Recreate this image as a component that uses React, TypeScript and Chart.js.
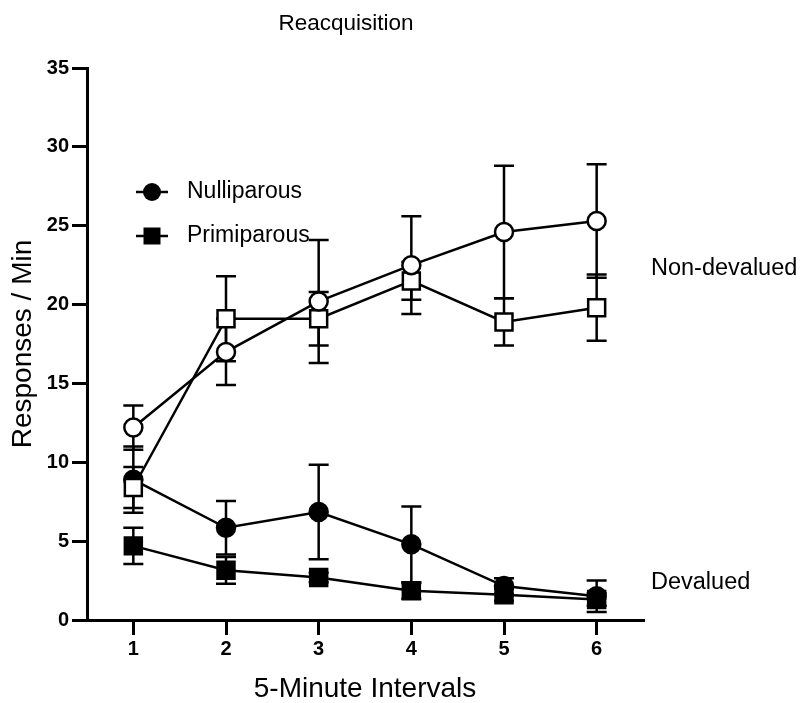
import React, { useEffect, useRef } from 'react';
import { Chart, registerables } from 'chart.js';

Chart.register(...registerables);

const FONT = '"Liberation Sans", Arial, Helvetica, sans-serif';

const TITLE = 'Reacquisition';
const X_TITLE = '5-Minute Intervals';
const Y_TITLE = 'Responses / Min';
const X_LABELS = ['1', '2', '3', '4', '5', '6'];
const Y_MIN = 0;
const Y_MAX = 35;
const Y_STEP = 5;

const LEGEND_LABELS = ['Nulliparous', 'Primiparous'];
const GROUP_LABELS = ['Non-devalued', 'Devalued'];
const GROUP_LABEL_VALUES = [22.3, 2.4];

// Non-devalued (open markers)
const NULLI_NONDEV = [12.2, 17.0, 20.2, 22.5, 24.6, 25.3];
const NULLI_NONDEV_ERR = [1.4, 2.1, 3.9, 3.1, 4.2, 3.6];
const PRIMI_NONDEV = [8.4, 19.1, 19.1, 21.5, 18.9, 19.8];
const PRIMI_NONDEV_ERR = [1.3, 2.7, 1.7, 1.2, 1.5, 2.1];

// Devalued (filled markers)
const NULLI_DEV = [8.9, 5.85, 6.85, 4.8, 2.15, 1.5];
const NULLI_DEV_ERR = [2.1, 1.7, 3.0, 2.4, 0.5, 1.0];
const PRIMI_DEV = [4.7, 3.15, 2.7, 1.85, 1.6, 1.3];
const PRIMI_DEV_ERR = [1.15, 0.85, 0.3, 0.5, 0.4, 0.4];

const errorBarPlugin = {
  id: 'errorBars',
  beforeDatasetsDraw(chart: any) {
    const { ctx, scales } = chart;
    const xs = scales.x;
    const ys = scales.y;
    ctx.save();
    ctx.strokeStyle = '#000';
    ctx.lineWidth = 2.5;
    chart.data.datasets.forEach((ds: any) => {
      const errs: number[] = ds.errors || [];
      ds.data.forEach((v: number, i: number) => {
        const e = errs[i];
        if (e == null) return;
        const x = xs.getPixelForValue(i);
        const yt = ys.getPixelForValue(v + e);
        const yb = ys.getPixelForValue(v - e);
        const cap = 10;
        ctx.beginPath();
        ctx.moveTo(x, yt);
        ctx.lineTo(x, yb);
        ctx.moveTo(x - cap, yt);
        ctx.lineTo(x + cap, yt);
        ctx.moveTo(x - cap, yb);
        ctx.lineTo(x + cap, yb);
        ctx.stroke();
      });
    });
    ctx.restore();
  },
};

const annotationsPlugin = {
  id: 'annotations',
  afterDraw(chart: any) {
    const { ctx, chartArea, scales } = chart;
    ctx.save();
    ctx.fillStyle = '#000';
    ctx.strokeStyle = '#000';
    // Title
    ctx.font = `22.5px ${FONT}`;
    ctx.textAlign = 'center';
    ctx.textBaseline = 'middle';
    ctx.fillText(TITLE, chartArea.left + 259, 24);

    // Legend
    const styles = ['circle', 'rect'];
    LEGEND_LABELS.forEach((label, i) => {
      const y = chartArea.top + 124 + i * 44;
      const cx = chartArea.left + 65;
      ctx.lineWidth = 2.5;
      ctx.beginPath();
      ctx.moveTo(cx - 16, y);
      ctx.lineTo(cx + 16, y);
      ctx.stroke();
      ctx.beginPath();
      if (styles[i] === 'circle') {
        ctx.arc(cx, y, 9, 0, Math.PI * 2);
      } else {
        ctx.rect(cx - 8.5, y - 8.5, 17, 17);
      }
      ctx.fill();
      ctx.font = `23px ${FONT}`;
      ctx.textAlign = 'left';
      ctx.textBaseline = 'middle';
      ctx.fillText(label, cx + 35, y);
    });

    // Group labels on the right
    ctx.font = `23.5px ${FONT}`;
    ctx.textAlign = 'left';
    ctx.textBaseline = 'middle';
    GROUP_LABELS.forEach((label, i) => {
      ctx.fillText(label, chartArea.right + 8, scales.y.getPixelForValue(GROUP_LABEL_VALUES[i]));
    });
    ctx.restore();
  },
};

function makeDataset(label: string, data: number[], errors: number[], style: string, filled: boolean) {
  return {
    label,
    data,
    errors,
    borderColor: '#000',
    borderWidth: 2.5,
    backgroundColor: filled ? '#000' : '#fff',
    pointStyle: style,
    pointRadius: style === 'rect' ? 12 : 9,
    pointBackgroundColor: filled ? '#000' : '#fff',
    pointBorderColor: '#000',
    pointBorderWidth: 2.5,
    tension: 0,
    fill: false,
    clip: false,
  } as any;
}

export default function App() {
  const canvasRef = useRef<HTMLCanvasElement | null>(null);

  useEffect(() => {
    if (!canvasRef.current) return;
    const axisGrid = {
      display: true,
      drawOnChartArea: false,
      drawTicks: true,
      tickLength: 15,
      color: '#000',
      lineWidth: 3,
    };
    const chart = new Chart(canvasRef.current, {
      type: 'line',
      data: {
        labels: X_LABELS,
        datasets: [
          makeDataset('Nulliparous Non-devalued', NULLI_NONDEV, NULLI_NONDEV_ERR, 'circle', false),
          makeDataset('Primiparous Non-devalued', PRIMI_NONDEV, PRIMI_NONDEV_ERR, 'rect', false),
          makeDataset('Nulliparous Devalued', NULLI_DEV, NULLI_DEV_ERR, 'circle', true),
          makeDataset('Primiparous Devalued', PRIMI_DEV, PRIMI_DEV_ERR, 'rect', true),
        ],
      },
      options: {
        animation: false,
        responsive: true,
        maintainAspectRatio: false,
        layout: { padding: { top: 68, right: 157, left: 0, bottom: 0 } },
        plugins: {
          legend: { display: false },
          tooltip: { enabled: false },
          title: { display: false },
        },
        scales: {
          x: {
            type: 'category',
            offset: true,
            grid: { ...axisGrid, offset: false },
            border: { display: true, color: '#000', width: 3 },
            ticks: {
              color: '#000',
              padding: 2,
              font: { family: FONT, size: 20, weight: 'bold' },
            },
            title: {
              display: true,
              text: X_TITLE,
              color: '#000',
              font: { family: FONT, size: 28, lineHeight: 1.0 },
              padding: { top: 0, bottom: 0 },
            },
            afterFit: (s: any) => {
              s.height = 83;
            },
          },
          y: {
            type: 'linear',
            min: Y_MIN,
            max: Y_MAX,
            grid: axisGrid,
            border: { display: true, color: '#000', width: 3 },
            ticks: {
              stepSize: Y_STEP,
              color: '#000',
              padding: 3,
              font: { family: FONT, size: 20, weight: 'bold' },
            },
            title: {
              display: true,
              text: Y_TITLE,
              color: '#000',
              font: { family: FONT, size: 28 },
              padding: { top: 6, bottom: 0 },
            },
            afterFit: (s: any) => {
              s.width = 87;
            },
          },
        },
      } as any,
      plugins: [errorBarPlugin, annotationsPlugin],
    });
    return () => chart.destroy();
  }, []);

  return (
    <div style={{ position: 'fixed', left: 0, top: 0, width: 800, height: 703, background: '#fff' }}>
      <canvas ref={canvasRef} />
    </div>
  );
}
